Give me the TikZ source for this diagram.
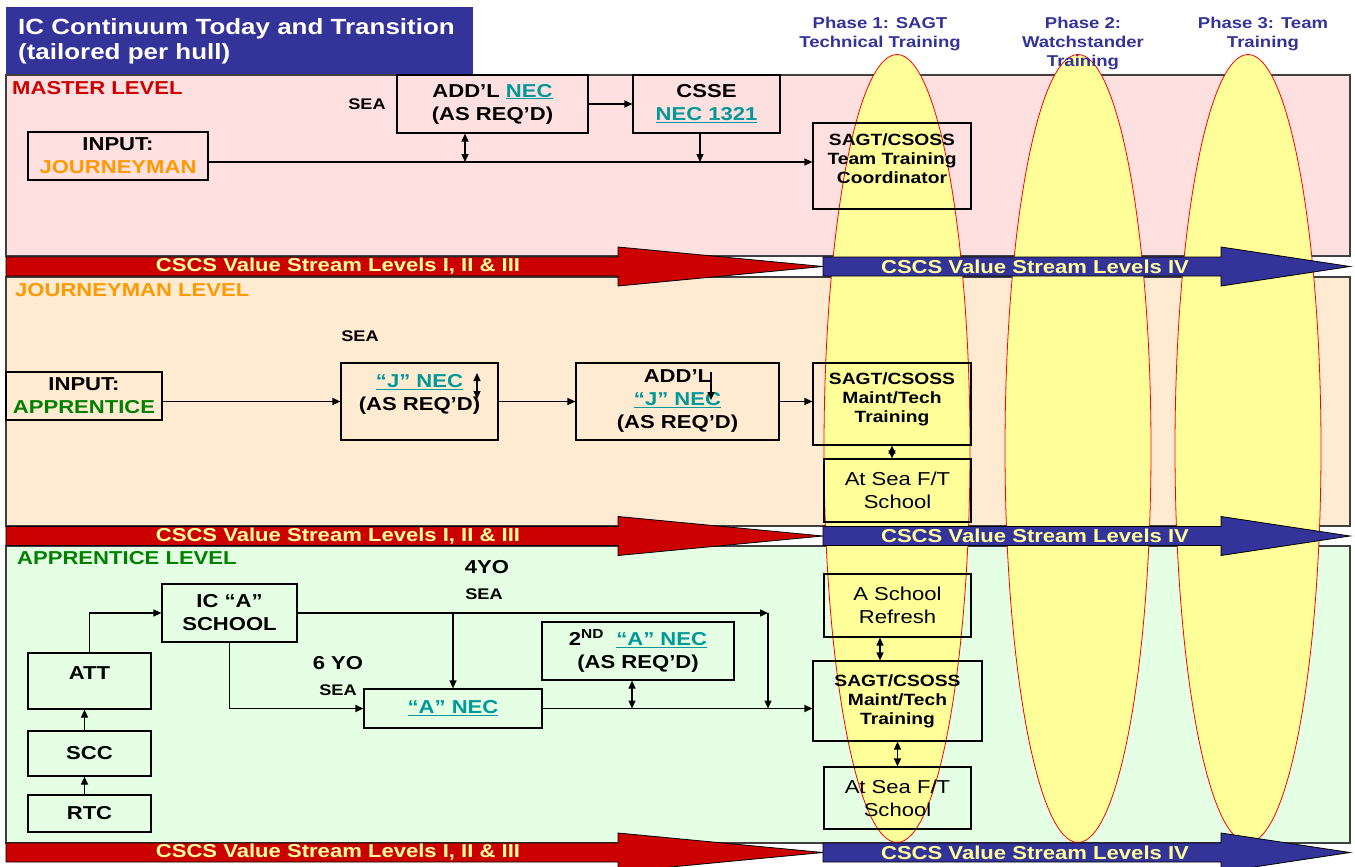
\documentclass[tikz,border=0pt]{standalone}
\usepackage{fontspec}
\setmainfont{Liberation Sans}[FakeStretch=1.18]
\usetikzlibrary{arrows.meta}
\definecolor{titleblue}{HTML}{333399}
\definecolor{valred}{HTML}{CC0000}
\definecolor{valtext}{HTML}{FFFF99}
\definecolor{necteal}{HTML}{009999}
\definecolor{jorange}{HTML}{FF9900}
\definecolor{agreen}{HTML}{008000}
\definecolor{mfill}{HTML}{FFE0E0}
\definecolor{jfill}{HTML}{FFEBD2}
\definecolor{afill}{HTML}{E4FFE4}
\definecolor{phyellow}{HTML}{FFFF99}
\newcommand{\nec}[1]{{\color{necteal}\underline{#1}}}

\begin{document}
\begin{tikzpicture}[x=1pt,y=-1pt, % coordenadas en pixeles
  box/.style={draw,line width=1.2pt,inner sep=0pt,align=center,font=\fontsize{18.7}{23}\selectfont\bfseries},
  sagt/.style={box,font=\fontsize{16.3}{19}\selectfont\bfseries},
  plain/.style={box,font=\fontsize{18.7}{23}\selectfont},
  lab/.style={inner sep=0pt,font=\fontsize{18.7}{20}\selectfont\bfseries},
  level/.style={lab,anchor=west},
  sea/.style={inner sep=0pt,font=\fontsize{15.4}{17}\selectfont\bfseries},
  phase/.style={inner sep=0pt,align=center,text=titleblue,font=\fontsize{15.7}{19}\selectfont\bfseries},
  band/.style={draw=black!75,line width=1.5pt},
  valtxt/.style={lab,text=valtext},
  link/.style={line width=1.2pt,-{Triangle[length=8pt,width=7pt]}},
  both/.style={link,{Triangle[length=8pt,width=7pt]}-{Triangle[length=8pt,width=7pt]}}]
  \useasboundingbox (0,0) rectangle (1355,867);
  \draw[band,fill=mfill] (6,75) rectangle (1350,256);
  \draw[band,fill=jfill] (6,277) rectangle (1350,526);
  \draw[band,fill=afill] (6,546) rectangle (1350,843);
  \fill[titleblue] (6,7) rectangle (473,74);
  \foreach \cx in {897,1078,1248}
    \draw[red,fill=phyellow,line width=0.8pt] (\cx,448.5) ellipse [x radius=73pt,y radius=394pt];
  \foreach \y/\n in {266.5/m,536/j,852.5/a} {
    \draw[fill=valred,line width=0.8pt] (6,\y-9.5) -- (618,\y-9.5) -- (618,\y-19.5) -- (823,\y) -- (618,\y+19.5) -- (618,\y+9.5) -- (6,\y+9.5) -- cycle;
    \draw[fill=titleblue,line width=0.8pt] (823,\y-9.5) -- (1221,\y-9.5) -- (1221,\y-19.5) -- (1350,\y) -- (1221,\y+19.5) -- (1221,\y+9.5) -- (823,\y+9.5) -- cycle;
    \node[valtxt] (red\n) at (338,\y) {CSCS Value Stream Levels I, II \& III};
    \node[valtxt] (blue\n) at (1035,\y) {CSCS Value Stream Levels IV};
  }
  \node[anchor=west,inner sep=0pt,align=left,text=white,font=\fontsize{22}{25}\selectfont\bfseries] (title) at (18,41) {IC Continuum Today and Transition\\(tailored per hull)};
  \node[phase] (ph1) at (880,34) {Phase 1: SAGT\\Technical Training};
  \node[phase] (ph2) at (1083,43.5) {Phase 2:\\Watchstander\\Training};
  \node[phase] (ph3) at (1263,34) {Phase 3: Team\\Training};

  \node[level,text=valred] (mlab) at (12,88) {MASTER LEVEL};
  \node[sea] (msea) at (367,104) {SEA};
  \node[box,minimum width=191,minimum height=58] (addl) at (492.5,104) {ADD’L \nec{NEC}\\(AS REQ’D)};
  \node[box,minimum width=147,minimum height=58] (csse) at (706.5,104) {CSSE\\\nec{NEC 1321}};
  \node[box,minimum width=180,minimum height=48] (injour) at (118,156) {INPUT:\\\textcolor{jorange}{JOURNEYMAN}};
  \node[sagt,minimum width=158,minimum height=86,text depth=14pt] (sagtm) at (892,166) {SAGT/CSOSS\\Team Training\\Coordinator};
  \coordinate (mj1) at (465,162);
  \coordinate (mj2) at (700,162);
  \draw[link] (injour.east |- mj1) -- (sagtm.west |- mj1);
  \draw[both] (addl.south -| mj1) -- (mj1);
  \draw[link] (csse.south -| mj2) -- (mj2);
  \draw[link] (addl.east) -- (csse.west);

  \node[level,text=jorange] (jlab) at (15,290) {JOURNEYMAN LEVEL};
  \node[sea] (jsea) at (360,336) {SEA};
  \node[box,minimum width=156,minimum height=48] (inapp) at (84,396) {INPUT:\\\textcolor{agreen}{APPRENTICE}};
  \node[box,minimum width=157,minimum height=77,text depth=18pt] (jnec) at (419.5,401.5) {\nec{“J” NEC}\\(AS REQ’D)};
  \node[box,minimum width=203,minimum height=77] (addlj) at (677.5,401.5) {ADD’L\\\nec{“J” NEC}\\(AS REQ’D)};
  \node[sagt,minimum width=158,minimum height=82,text depth=13pt] (sagtj) at (892,404) {SAGT/CSOSS\\Maint/Tech\\Training};
  \node[plain,minimum width=147,minimum height=63] (seaj) at (897.5,490.5) {At Sea F/T\\School};
  \coordinate (jt1) at (477,373);
  \coordinate (jt2) at (477,399);
  \coordinate (ja1) at (711,372);
  \coordinate (ja2) at (711,400);
  \draw[link] (inapp.east |- jnec.west) -- (jnec.west);
  \draw[link] (jnec.east) -- (addlj.west);
  \draw[link] (addlj.east) -- (sagtj.west |- addlj.east);
  \draw[both] (sagtj.south) -- (sagtj.south |- seaj.north);
  \draw[both] (jt1) -- (jt2);
  \draw[link] (ja1) -- (ja2);

  \node[level,text=agreen] (alab) at (17,558) {APPRENTICE LEVEL};
  \node[lab] (yo4) at (487,567) {4YO};
  \node[sea] (asea1) at (484,594) {SEA};
  \node[lab] (yo6) at (338,663) {6 YO};
  \node[sea] (asea2) at (338,690) {SEA};
  \node[box,minimum width=135,minimum height=58] (school) at (229.5,613) {IC “A”\\SCHOOL};
  \node[box,minimum width=123,minimum height=56,text depth=16pt] (att) at (89.5,681) {ATT};
  \node[box,minimum width=123,minimum height=45] (scc) at (89.5,753.5) {SCC};
  \node[box,minimum width=123,minimum height=37] (rtc) at (89.5,813.5) {RTC};
  \node[box,minimum width=178,minimum height=39] (anec) at (453,708.5) {\nec{“A” NEC}};
  \node[box,minimum width=192,minimum height=58] (anec2) at (638,651) {2\textsuperscript{ND}\ \ \nec{“A” NEC}\\(AS REQ’D)};
  \node[plain,minimum width=147,minimum height=63] (refresh) at (897.5,605.5) {A School\\Refresh};
  \node[sagt,minimum width=169,minimum height=80] (sagta) at (897.5,701) {SAGT/CSOSS\\Maint/Tech\\Training};
  \node[plain,minimum width=147,minimum height=62] (seaa) at (897.5,798) {At Sea F/T\\School};
  \coordinate (a3) at (453,613);
  \coordinate (a4) at (768,613);
  \draw[link] ([xshift=-5pt]rtc.north) -- ([xshift=-5pt]scc.south);
  \draw[link] ([xshift=-5pt]scc.north) -- ([xshift=-5pt]att.south);
  \draw[link] (att.north) |- (school.west);
  \draw[link] (school.east) -- (a4);
  \draw[link] (a4) -- (a4 |- anec.east);
  \draw[link] (a3) -- (anec.north);
  \draw[link] (school.south) |- (anec.west);
  \draw[link] (anec.east) -- (sagta.west |- anec.east);
  \draw[both] ([xshift=-6pt]anec2.south) -- ([xshift=-6pt]anec2.south |- anec.east);
  \draw[both] ([xshift=-17.5pt]refresh.south) -- ([xshift=-17.5pt]refresh.south |- sagta.north);
  \draw[both] (sagta.south) -- (seaa.north);
\end{tikzpicture}
\end{document}
